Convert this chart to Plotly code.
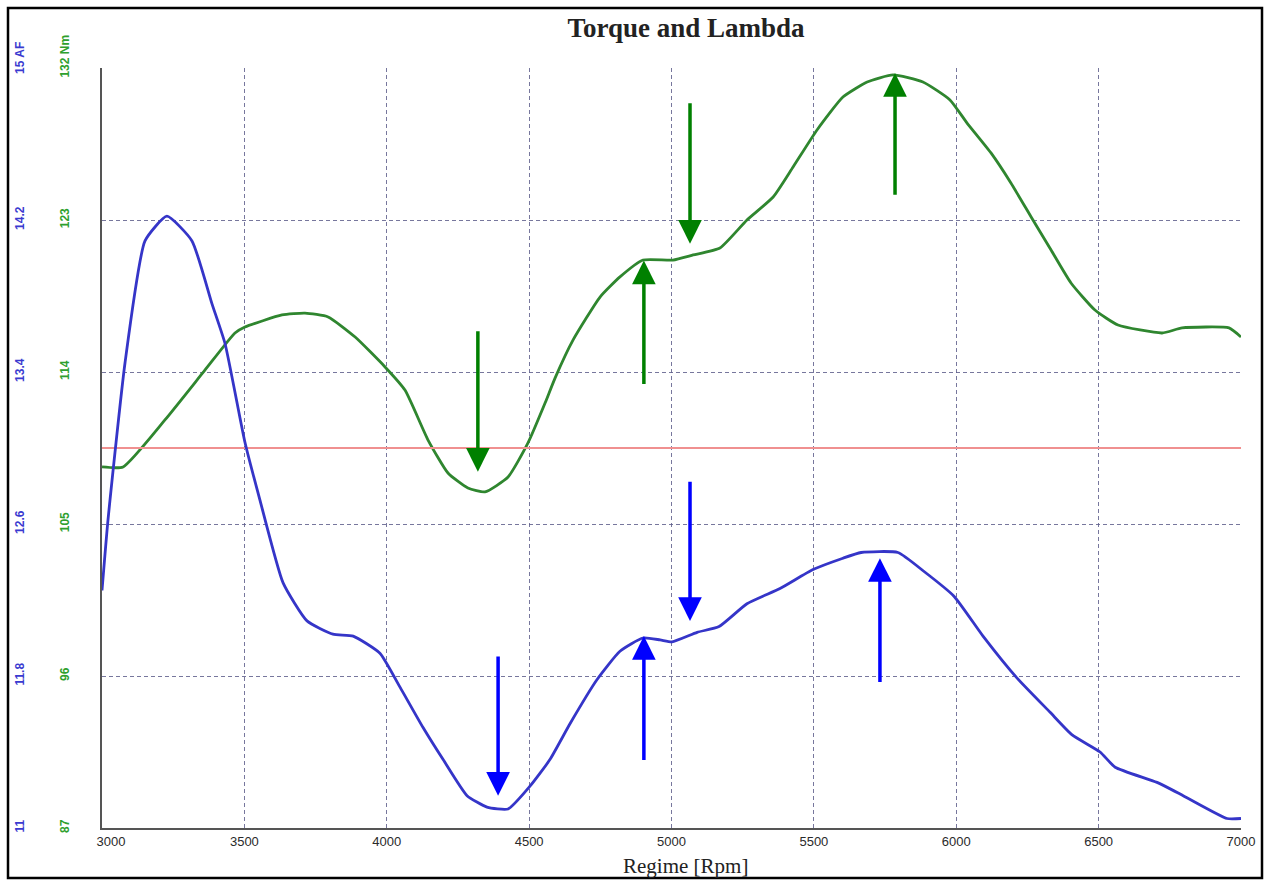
import plotly.graph_objects as go

# ---------------- data ----------------
rpm_af = [3000, 3021, 3081, 3151, 3228, 3316, 3386, 3432, 3502, 3554,
          3636, 3720, 3811, 3882, 3976, 4047, 4127, 4198, 4282, 4352,
          4426, 4503, 4573, 4644, 4738, 4819, 4900, 4960, 5002, 5090,
          5167, 5265, 5381, 5497, 5602, 5666, 5795, 5887, 5992, 6094,
          6213, 6329, 6407, 6505, 6558, 6705, 6797, 6951, 7000]
af = [12.25, 12.62, 13.45, 14.09, 14.22, 14.09, 13.76, 13.55, 13.03, 12.73,
      12.29, 12.09, 12.02, 12.01, 11.92, 11.74, 11.53, 11.36, 11.17, 11.11,
      11.10, 11.22, 11.36, 11.55, 11.78, 11.93, 12.00, 11.99, 11.98, 12.03,
      12.06, 12.18, 12.26, 12.36, 12.42, 12.45, 12.45, 12.35, 12.22, 12.01,
      11.79, 11.61, 11.49, 11.40, 11.32, 11.24, 11.17, 11.05, 11.05]

rpm_tq = [3000, 3074, 3221, 3362, 3467, 3502, 3632, 3713, 3794, 3889,
          3994, 4064, 4145, 4215, 4285, 4345, 4426, 4496, 4556, 4591,
          4654, 4749, 4819, 4900, 5005, 5076, 5170, 5265, 5357, 5427,
          5511, 5602, 5687, 5778, 5883, 5978, 6038, 6122, 6192, 6263,
          6333, 6403, 6487, 6568, 6723, 6793, 6958, 7000]
torque = [108.38, 108.38, 111.16, 114.12, 116.31, 116.66, 117.38, 117.49, 117.26, 116.07,
          114.30, 112.93, 109.97, 108.02, 107.13, 106.90, 107.78, 109.80, 112.16, 113.64,
          115.89, 118.44, 119.63, 120.63, 120.63, 120.93, 121.34, 123.00, 124.36, 126.14,
          128.33, 130.28, 131.17, 131.59, 131.17, 130.11, 128.74, 126.97, 125.19, 123.18,
          121.22, 119.27, 117.67, 116.78, 116.31, 116.61, 116.61, 116.07]

ref_af = 13.0  # reference (red) line on the AF scale

x_ticks = [3000, 3500, 4000, 4500, 5000, 5500, 6000, 6500, 7000]
x_ticktext = ["\u00a0\u00a0\u00a0\u00a0\u00a03000", "3500", "4000", "4500", "5000",
              "5500", "6000", "6500", "7000"]
tq_ticks = [87, 96, 105, 114, 123, 132]
tq_ticktext = ["87", "96", "105", "114", "123", "\u00a0\u00a0\u00a0\u00a0\u00a0\u00a0132 Nm"]
af_ticks = [11, 11.8, 12.6, 13.4, 14.2, 15]
af_ticktext = ["11", "11.8", "12.6", "13.4", "14.2", "\u00a0\u00a0\u00a0\u00a0\u00a015 AF"]

# arrows: (rpm, tail value, tip value)
tq_arrows = [(4320, 116.5, 108.1), (5065, 130.0, 121.6),
             (4903, 113.2, 120.6), (5785, 124.4, 131.7)]
af_arrows = [(4391, 11.91, 11.17), (5065, 12.83, 12.09),
             (4903, 11.35, 12.01), (5732, 11.76, 12.42)]

# ---------------- figure ----------------
W, H = 1270, 882
BLUE = "#3535c8"
GREEN = "#2f862f"
GRID = "rgba(95,95,140,0.85)"

fig = go.Figure()
fig.add_trace(go.Scatter(x=[x_ticks[0], x_ticks[-1]], y=[ref_af, ref_af], yaxis="y2",
                         mode="lines", line=dict(color="#f09090", width=2),
                         hoverinfo="skip", showlegend=False))
fig.add_trace(go.Scatter(x=rpm_tq, y=torque, mode="lines", name="Torque [Nm]",
                         line=dict(color=GREEN, width=2.8, shape="spline", smoothing=0.5),
                         showlegend=False))
fig.add_trace(go.Scatter(x=rpm_af, y=af, yaxis="y2", mode="lines", name="AF",
                         line=dict(color=BLUE, width=2.8, shape="spline", smoothing=0.5),
                         showlegend=False))

annotations = []
for xr, tail, tip in tq_arrows:
    annotations.append(dict(x=xr, y=tip, ax=xr, ay=tail, xref="x", yref="y",
                            axref="x", ayref="y", text="", showarrow=True,
                            arrowhead=2, arrowsize=1.35, arrowwidth=3.5,
                            arrowcolor="#008000"))
for xr, tail, tip in af_arrows:
    annotations.append(dict(x=xr, y=tip, ax=xr, ay=tail, xref="x", yref="y2",
                            axref="x", ayref="y2", text="", showarrow=True,
                            arrowhead=2, arrowsize=1.35, arrowwidth=3.5,
                            arrowcolor="#0000ff"))
annotations.append(dict(text="Regime [Rpm]", x=686 / W, y=1 - 866 / H, xref="paper", yref="paper",
                        showarrow=False, xanchor="center", yanchor="middle",
                        font=dict(family="Liberation Serif, Times New Roman, serif", size=21, color="#222")))

fig.update_layout(
    width=W, height=H,
    margin=dict(l=0, r=0, t=0, b=0, pad=0, autoexpand=False),
    paper_bgcolor="white", plot_bgcolor="white",
    title=dict(text="Torque and Lambda", x=686 / W, y=1 - 28 / H, xanchor="center", yanchor="middle",
               automargin=False,
               font=dict(family="Liberation Serif, Times New Roman, serif", size=27, color="#222", weight="bold")),
    xaxis=dict(domain=[102 / W, 1241 / W], range=[3000, 7000], tickvals=x_ticks, ticktext=x_ticktext,
               showline=True, linecolor="#555", linewidth=2, ticks="", automargin=False,
               showgrid=True, gridcolor=GRID, griddash="4px,3px", gridwidth=1, zeroline=False,
               tickfont=dict(family="Liberation Sans Narrow, Arial Narrow, sans-serif", size=13, color="#2a2a2a")),
    yaxis=dict(domain=[1 - 828 / H, 1 - 68 / H], range=[87, 132], tickvals=tq_ticks, ticktext=tq_ticktext,
               anchor="x", side="left", showline=True, linecolor="#555", linewidth=2, ticks="",
               automargin=False,
               showgrid=True, gridcolor=GRID, griddash="4px,3px", gridwidth=1, zeroline=False,
               tickangle=-90, ticklabelstandoff=26,
               tickfont=dict(family="Liberation Sans, Arial, sans-serif", size=12, color="#2ea02e", weight="bold")),
    yaxis2=dict(range=[11, 15], tickvals=af_ticks, ticktext=af_ticktext, overlaying="y",
                anchor="free", side="left", position=40 / W, showline=False, showgrid=False,
                automargin=False,
                zeroline=False, ticks="", tickangle=-90, ticklabelstandoff=14,
                tickfont=dict(family="Liberation Sans, Arial, sans-serif", size=12, color="#3a3ad0", weight="bold")),
    annotations=annotations,
    shapes=[dict(type="rect", xref="paper", yref="paper", x0=8 / W, x1=1262 / W,
                 y0=1 - 878 / H, y1=1 - 8 / H, line=dict(color="black", width=2.5),
                 fillcolor="rgba(0,0,0,0)", layer="above")],
)

fig.write_html("out.html", config={"displayModeBar": False},
               post_script="document.body.style.margin='0';document.body.style.overflow='hidden';")
